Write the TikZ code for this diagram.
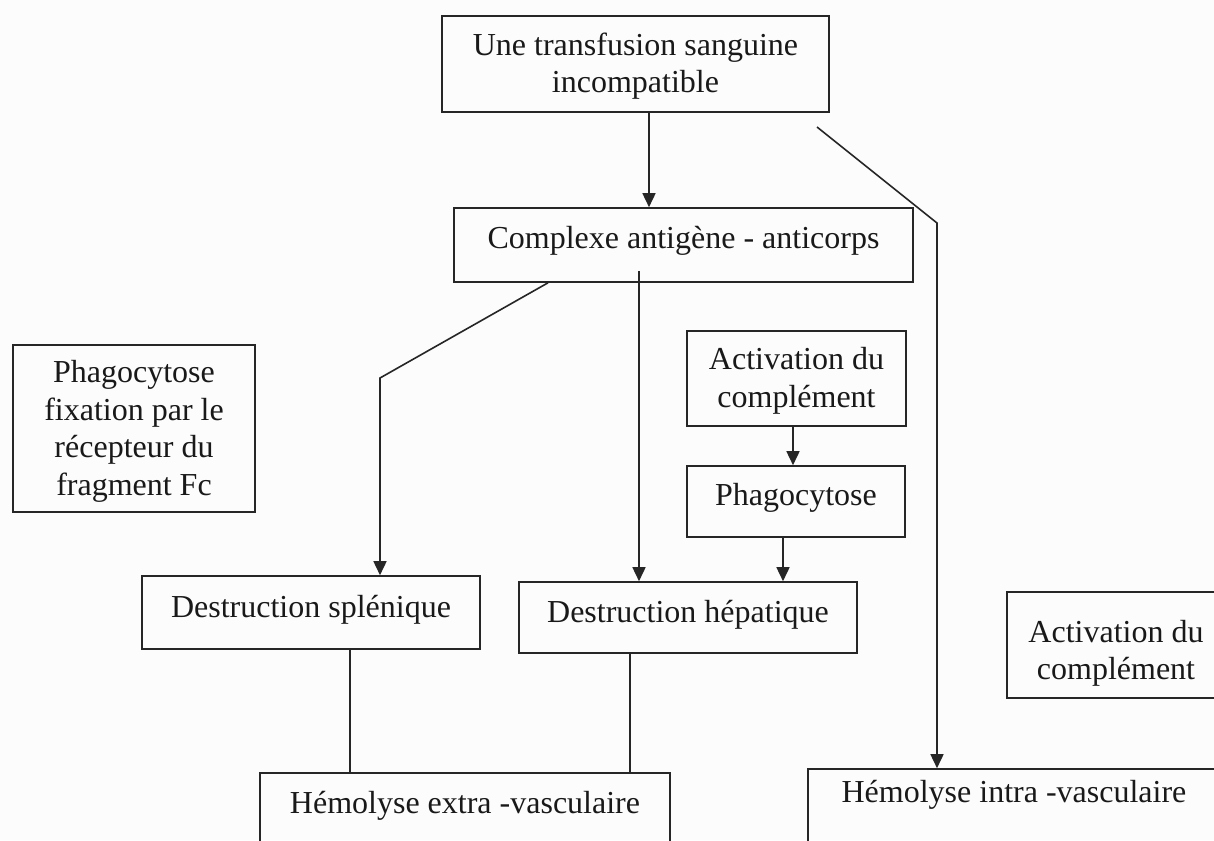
\documentclass[tikz,border=0pt]{standalone}
\usepackage{fontspec}
\setmainfont{Liberation Serif}
\usetikzlibrary{arrows.meta}
\definecolor{ink}{RGB}{38,38,38}
\definecolor{paper}{RGB}{252,252,252}
\begin{document}
\begin{tikzpicture}[x=0.5pt,y=-0.5pt,
  box/.style={draw=ink, line width=0.8pt, inner sep=0pt, align=center,
    font=\fontsize{16pt}{18.8pt}\selectfont, text=black!90},
  arr/.style={draw=ink, line width=0.8pt, -{Triangle[width=6.5pt,length=7pt]}},
  ln/.style={draw=ink, line width=0.8pt}]
\fill[paper] (0,0) rectangle (1214,840);
\useasboundingbox (0,0) rectangle (1214,840);
\clip (0,0) rectangle (1214,840);

\node[box, minimum width=193.5pt, minimum height=48pt] (top) at (635.5,64)
  {\rule{0pt}{13.4pt}Une transfusion sanguine\\incompatible};
\node[box, minimum width=229.5pt, minimum height=37pt, text height=8pt, text depth=5pt] (cx) at (683.5,245)
  {Complexe antigène - anticorps};
\node[box, minimum width=121pt, minimum height=83.5pt] (phfc) at (134,428.5)
  {\rule{0pt}{13.9pt}Phagocytose\\fixation par le\\récepteur du\\fragment Fc};
\node[box, minimum width=109.5pt, minimum height=47.5pt] (act1) at (796.5,378.5)
  {\rule{0pt}{13.4pt}Activation du\\complément};
\node[box, minimum width=109pt, minimum height=35.5pt, text height=8.5pt, text depth=5pt] (phago) at (796,501.5)
  {Phagocytose};
\node[box, minimum width=169pt, minimum height=36.5pt, text height=9pt, text depth=4.5pt] (splen) at (311,612.5)
  {Destruction splénique};
\node[box, minimum width=169pt, minimum height=35.5pt, text height=9pt, text depth=4.5pt] (hepat) at (688,617.5)
  {Destruction hépatique};
\node[box, minimum width=109pt, minimum height=53pt] (act2) at (1116,645)
  {\rule{0pt}{19.4pt}Activation du\\complément};
\node[box, minimum width=205pt, minimum height=41.5pt, text height=6pt, text depth=7.5pt] (extra) at (465,814.5)
  {Hémolyse extra -vasculaire};
\node[box, minimum width=206pt, minimum height=43.5pt, text height=2pt, text depth=12.5pt] (intra) at (1014,812.5)
  {Hémolyse intra -vasculaire};

\coordinate (s2) at (817,127);

\draw[arr] (top.south -| 649,0) -- (cx.north -| 649,0);
\draw[arr] (s2) -- (937,223) -- (intra.north -| 937,0);
\draw[arr] (cx.south -| 548,0) -- (380,378) -- (splen.north -| 380,0);
\draw[arr] ([yshift=6pt]cx.south -| 639,0) -- (hepat.north -| 639,0);
\draw[arr] (act1.south -| 793,0) -- (phago.north -| 793,0);
\draw[arr] (phago.south -| 783,0) -- (hepat.north -| 783,0);
\draw[ln] (splen.south -| 350,0) -- (extra.north -| 350,0);
\draw[ln] (hepat.south -| 630,0) -- (extra.north -| 630,0);
\end{tikzpicture}
\end{document}
